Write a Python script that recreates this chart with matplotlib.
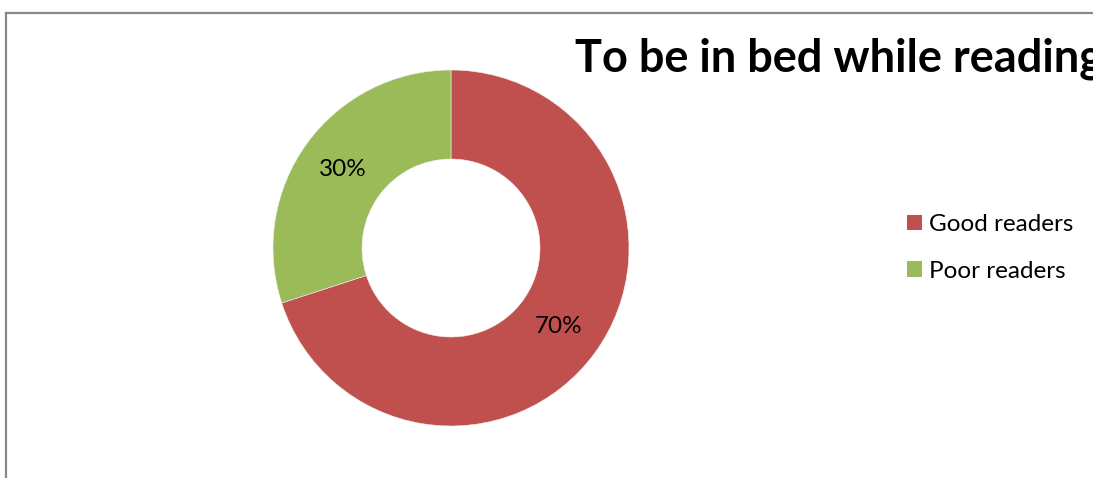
import matplotlib; matplotlib.use('Agg')
import matplotlib.pyplot as plt
from matplotlib.lines import Line2D
from matplotlib.patches import Patch

labels = ['Good readers', 'Poor readers']
shares = [70, 30]
colors = ['#C0504D', '#9BBB59']
title = 'To be in bed while reading'

W, H = 1093, 478
plt.rcParams['font.family'] = ['Lato', 'DejaVu Sans']

fig = plt.figure(figsize=(W / 100, H / 100), dpi=100)
ax = fig.add_axes([0, 0, 1, 1])

# donut, starting at 12 o'clock and running clockwise
wedges, texts, autotexts = ax.pie(
    shares, colors=colors, startangle=90, counterclock=False,
    center=(451, H - 248), radius=178, frame=True,
    autopct='%d%%', pctdistance=0.75,
    wedgeprops=dict(width=89, edgecolor='#f0f0f0', linewidth=0.4),
    textprops=dict(fontsize=17.5, color='black'))
ax.set_xlim(0, W)
ax.set_ylim(0, H)
ax.set_aspect('equal')
ax.axis('off')

# title runs past the right edge, as in the original
fig.text(575 / W, 1 - 71 / H, title, fontsize=32.5, fontweight='bold',
         ha='left', va='baseline')

handles = [Patch(facecolor=c, edgecolor='none') for c in colors]
fig.legend(handles, labels, loc='upper left', bbox_to_anchor=(907 / W, 1 - 214 / H),
           frameon=False, fontsize=17.5, handlelength=0.6, handleheight=0.6,
           handletextpad=0.3, labelspacing=1.05, borderaxespad=0, borderpad=0)

# chart-area frame (top and left edges visible)
fig.add_artist(Line2D([5.5 / W, 1], [1 - 12.5 / H] * 2, color='#898989', lw=1.6,
                      transform=fig.transFigure))
fig.add_artist(Line2D([5.5 / W] * 2, [0, 1 - 12.5 / H], color='#898989', lw=1.6,
                      transform=fig.transFigure))

fig.savefig('out.png', dpi=100)
